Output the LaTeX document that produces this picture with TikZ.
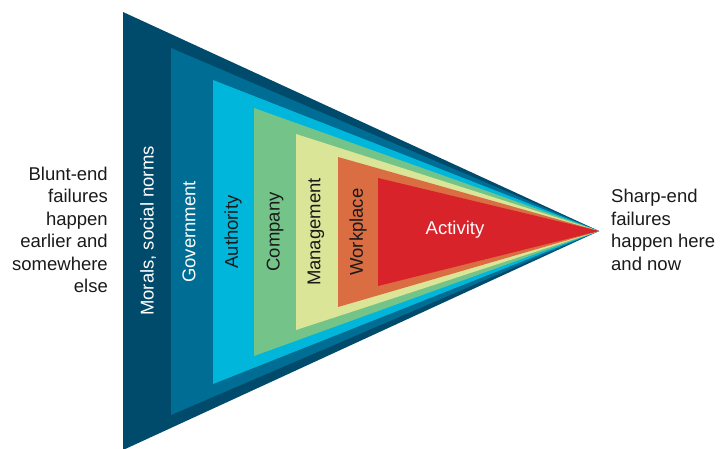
\documentclass[tikz,border=0pt]{standalone}
\usepackage{fontspec}
\setmainfont{Liberation Sans}
\definecolor{cMorals}{HTML}{004B6B}
\definecolor{cGov}{HTML}{006D94}
\definecolor{cAuth}{HTML}{00B6DA}
\definecolor{cComp}{HTML}{74C48A}
\definecolor{cMan}{HTML}{DAE597}
\definecolor{cWork}{HTML}{DA6D42}
\definecolor{cAct}{HTML}{D8232A}
\definecolor{cText}{HTML}{1A1A1A}
\tikzset{
  lbl/.style={font=\fontsize{18.5}{22.5}\selectfont, inner sep=0pt},
  vlbl/.style={lbl, rotate=90},
}
\begin{document}
\begin{tikzpicture}[x=1pt,y=-1pt]
\useasboundingbox (0,0) rectangle (720,448);
\coordinate (apex) at (599,231);
\fill[cMorals] (123,12) -- (apex) -- (123,450) -- cycle;
\fill[cGov] (171,48) -- (apex) -- (171,415) -- cycle;
\fill[cAuth] (213,80) -- (apex) -- (213,384) -- cycle;
\fill[cComp] (254,108) -- (apex) -- (254,356) -- cycle;
\fill[cMan] (296,134) -- (apex) -- (296,330) -- cycle;
\fill[cWork] (338,157) -- (apex) -- (338,307) -- cycle;
\fill[cAct] (378,178) -- (apex) -- (378,286) -- cycle;
\node[vlbl, text=white] (morals) at (148,231) {Morals, social norms};
\node[vlbl, text=white] (gov) at (189,232) {Government};
\node[vlbl, text=cText] (auth) at (233,232) {Authority};
\node[vlbl, text=cText] (comp) at (275,232) {Company};
\node[vlbl, text=cText] (man) at (316,232) {Management};
\node[vlbl, text=cText] (work) at (358,232) {Workplace};
\node[lbl, text=white] (act) at (455,230) {Activity};
\node[lbl, text=cText, align=right, anchor=east] (blunt) at (108,230) {Blunt-end\\failures\\happen\\earlier and\\somewhere\\else};
\node[lbl, text=cText, align=left, anchor=west] (sharp) at (611,230) {Sharp-end\\failures\\happen here\\and now};
\end{tikzpicture}
\end{document}
